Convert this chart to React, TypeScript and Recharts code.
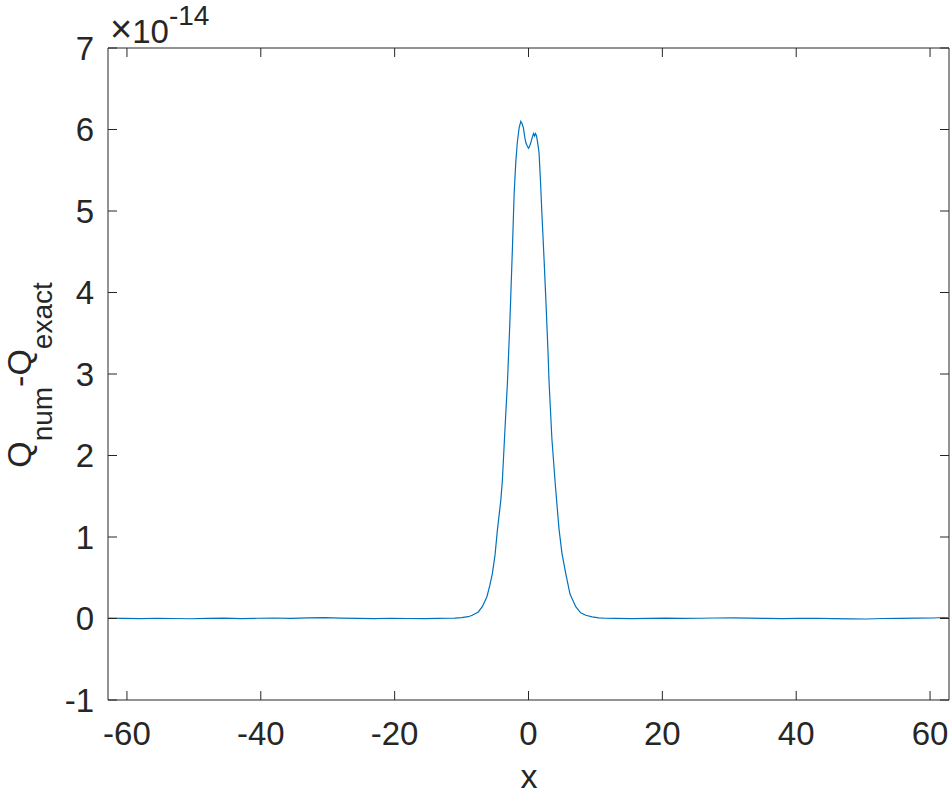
import { LineChart, Line, XAxis, YAxis, Label, ReferenceArea } from "recharts";

// x positions (domain is -20π .. 20π)
const xs = [
  -62.83, -60.5, -58, -55.5, -53, -50.5, -48, -45.5, -43, -40.5, -38, -35.5, -33, -30.5, -28, -25.5,
  -23, -20.5, -18, -15.5, -13.5, -12, -11, -10, -9, -8.4, -7.5, -6.9, -6.2, -5.8, -5.4, -5.0, -4.64,
  -4.14, -3.9, -3.5, -3.15, -2.8, -2.65, -2.4, -2.15, -1.9, -1.66, -1.4, -1.15, -0.95, -0.76, -0.55,
  -0.4, -0.2, 0, 0.15, 0.35, 0.55, 0.75, 0.9, 1.05, 1.2, 1.4, 1.58, 1.8, 1.98, 2.33, 2.6, 2.9, 3.08,
  3.5, 4.0, 4.3, 4.57, 5.0, 5.57, 6.2, 7.06, 7.8, 8.56, 9.5, 10.5, 11.5, 13, 15.5, 18, 20.5, 23, 25.5,
  28, 30.5, 33, 35.5, 38, 40.5, 43, 45.5, 48, 50.5, 53, 55.5, 58, 60.5, 62, 62.83,
];

// Q_num - Q_exact, in units of 1e-14
const qDiff = [
  0.004, 0.001, -0.002, 0.003, 0.0, -0.003, 0.002, 0.004, -0.001, 0.003, 0.006, 0.002, 0.008, 0.01,
  0.005, 0.002, -0.001, 0.003, 0.0, -0.002, 0.001, 0.003, 0.005, 0.01, 0.022, 0.04, 0.08, 0.145, 0.27,
  0.4, 0.55, 0.78, 1.09, 1.45, 1.7, 2.35, 2.89, 3.6, 3.95, 4.55, 5.2, 5.6, 5.85, 6.02, 6.1, 6.07, 6.02,
  5.9, 5.84, 5.8, 5.77, 5.79, 5.84, 5.9, 5.95, 5.92, 5.95, 5.92, 5.82, 5.71, 5.35, 5.01, 4.4, 3.9, 3.3,
  2.89, 2.2, 1.65, 1.35, 1.09, 0.8, 0.55, 0.3, 0.145, 0.07, 0.04, 0.02, 0.008, 0.003, 0.001, -0.002,
  0.002, 0.004, 0.001, 0.003, 0.006, 0.008, 0.004, 0.002, -0.001, 0.001, 0.003, -0.002, -0.004, -0.006,
  0.0, 0.002, 0.004, 0.006, 0.012, 0.008,
];

const xTicks = [-60, -40, -20, 0, 20, 40, 60];
const yTicks = [-1, 0, 1, 2, 3, 4, 5, 6, 7];

const data = xs.map((x, i) => ({ x, y: qDiff[i] }));

const FONT = '"Liberation Sans", Arial, Helvetica, sans-serif';
const INK = "#262626";

// plot box edges
const TOP = 48;
const BOTTOM = 700;
const LEFT = 108;
const RIGHT = 949;
const TICK = 9;

// MATLAB-style ticks: pointing inwards, mirrored on the opposite side
const XTick = (props: any) => {
  const c = props.payload.coordinate;
  return (
    <g>
      <line x1={c} x2={c} y1={BOTTOM} y2={BOTTOM - TICK} stroke={INK} />
      <line x1={c} x2={c} y1={TOP} y2={TOP + TICK} stroke={INK} />
      <text x={c} y={BOTTOM + 22} dy="0.71em" textAnchor="middle" fill={INK} fontSize={33} fontFamily={FONT}>
        {props.payload.value}
      </text>
    </g>
  );
};

const YTick = (props: any) => {
  const c = props.payload.coordinate;
  return (
    <g>
      <line x1={LEFT} x2={LEFT + TICK} y1={c} y2={c} stroke={INK} />
      <line x1={RIGHT} x2={RIGHT - TICK} y1={c} y2={c} stroke={INK} />
      <text x={LEFT - 14} y={c} dy="0.355em" textAnchor="end" fill={INK} fontSize={33} fontFamily={FONT}>
        {props.payload.value}
      </text>
    </g>
  );
};

export default function App() {
  return (
    <div style={{ position: "absolute", left: 0, top: 0 }}>
      <LineChart
        width={950}
        height={801}
        data={data}
        margin={{ top: TOP, right: 950 - RIGHT, bottom: 41, left: LEFT - 60 }}
      >
        <XAxis
          xAxisId="b"
          dataKey="x"
          type="number"
          domain={[-62.83, 62.83]}
          ticks={xTicks}
          allowDataOverflow
          height={60}
          tickLine={false}
          axisLine={false}
          tick={<XTick />}
        >
          <Label
            content={() => (
              <text x={529} y={788} textAnchor="middle" fill={INK} fontSize={34} fontFamily={FONT}>
                x
              </text>
            )}
          />
        </XAxis>
        <YAxis
          yAxisId="l"
          type="number"
          domain={[-1, 7]}
          ticks={yTicks}
          allowDataOverflow
          width={60}
          tickLine={false}
          axisLine={false}
          tick={<YTick />}
        >
          <Label
            content={() => (
              <g>
                <text
                  transform="translate(31,375) rotate(-90)"
                  textAnchor="middle"
                  fill={INK}
                  fontSize={34}
                  fontFamily={FONT}
                >
                  Q
                  <tspan fontSize={28} dy={21}>num</tspan>
                  <tspan dy={-21}>-Q</tspan>
                  <tspan fontSize={28} dy={21}>exact</tspan>
                </text>
                <text x={110} y={43} fill={INK} fontSize={33} fontFamily={FONT}>
                  <tspan fontSize={38} dy={-1}>×</tspan>
                  <tspan dy={1}>10</tspan>
                  <tspan fontSize={28} dy={-18}>-14</tspan>
                </text>
              </g>
            )}
          />
        </YAxis>
        <ReferenceArea
          xAxisId="b"
          yAxisId="l"
          x1={-62.83}
          x2={62.83}
          y1={-1}
          y2={7}
          fill="none"
          stroke={INK}
          strokeWidth={1}
          ifOverflow="visible"
        />
        <Line
          xAxisId="b"
          yAxisId="l"
          dataKey="y"
          type="linear"
          stroke="#0072BD"
          strokeWidth={1.2}
          dot={false}
          isAnimationActive={false}
        />
      </LineChart>
    </div>
  );
}
